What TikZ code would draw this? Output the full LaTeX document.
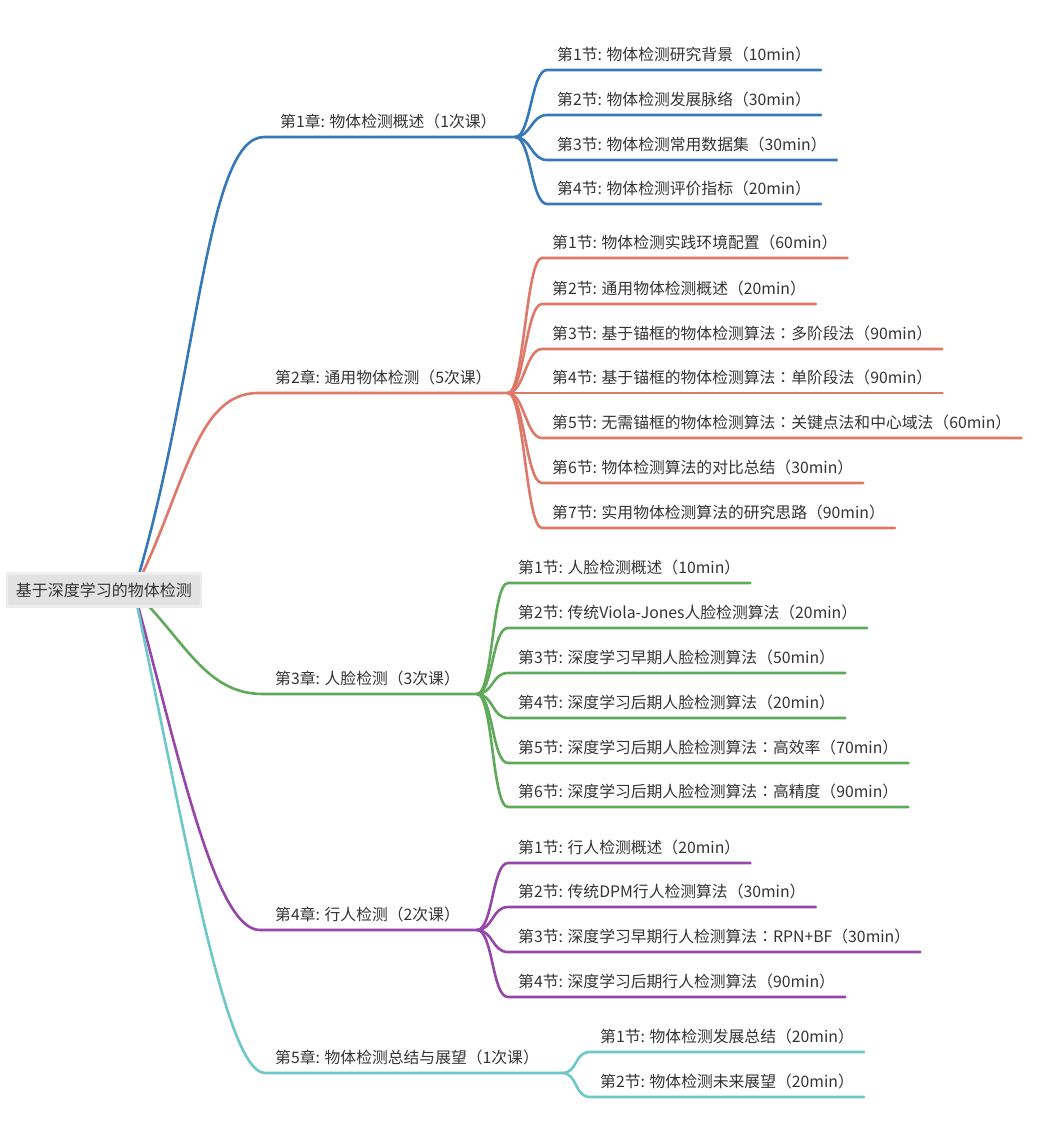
\documentclass[tikz,border=0pt]{standalone}
\usepackage{fontspec}
\setmainfont{Noto Sans CJK SC}
\newfontfamily\tcfont{Noto Sans CJK TC}
\newcommand{\cnc}{{\tcfont ：}}
\usetikzlibrary{backgrounds,calc}
\definecolor{cblue}{HTML}{3778B9}
\definecolor{corange}{HTML}{DE7869}
\definecolor{cgreen}{HTML}{5FAA5A}
\definecolor{cpurple}{HTML}{9646AA}
\definecolor{ccyan}{HTML}{6EC8C8}
\definecolor{rootgray}{HTML}{E2E2E2}
\definecolor{txtgray}{HTML}{333333}
\tikzset{
  lbl/.style={inner sep=0pt, inner ysep=9pt, text height=12pt, text depth=0pt,
    anchor=south west, text=txtgray, font=\fontsize{15.8}{18}\selectfont},
  rootbox/.style={fill=rootgray, rounded corners=2pt, inner sep=0pt,
    minimum width=192pt, minimum height=30pt, text=txtgray,
    font=\fontsize{16}{18}\selectfont},
  br/.style={line width=2.6pt, line cap=round},
}
\begin{document}
\begin{tikzpicture}[x=1pt,y=-1pt]
\useasboundingbox (0,0) rectangle (1048,1127);

% root
\fill[rootgray!60] (6,572) rectangle (202,608);
\node[rootbox] (root) at (104,590) {基于深度学习的物体检测};
\coordinate (hub) at (134,591);

% chapters
\node[lbl] (c1) at (280,137) {第1章: 物体检测概述（1次课）};
\node[lbl] (c2) at (275,393) {第2章: 通用物体检测（5次课）};
\node[lbl] (c3) at (275,694) {第3章: 人脸检测（3次课）};
\node[lbl] (c4) at (275,930) {第4章: 行人检测（2次课）};
\node[lbl] (c5) at (275,1073) {第5章: 物体检测总结与展望（1次课）};

\coordinate (e1) at (264,137); \coordinate (b1) at (515,137);
\coordinate (e2) at (258,393); \coordinate (b2) at (508,393);
\coordinate (e3) at (263,694); \coordinate (b3) at (477,694);
\coordinate (e4) at (260,930); \coordinate (b4) at (477,930);
\coordinate (e5) at (265,1073); \coordinate (b5) at (562,1073);

% sections chapter 1
\node[lbl] (s11) at (557,70)  {第1节: 物体检测研究背景（10min）};
\node[lbl] (s12) at (557,115) {第2节: 物体检测发展脉络（30min）};
\node[lbl] (s13) at (557,160) {第3节: 物体检测常用数据集（30min）};
\node[lbl] (s14) at (557,204) {第4节: 物体检测评价指标（20min）};
% chapter 2
\node[lbl] (s21) at (552,258) {第1节: 物体检测实践环境配置（60min）};
\node[lbl] (s22) at (552,304) {第2节: 通用物体检测概述（20min）};
\node[lbl] (s23) at (552,349) {第3节: 基于锚框的物体检测算法\cnc 多阶段法（90min）};
\node[lbl] (s24) at (552,393) {第4节: 基于锚框的物体检测算法\cnc 单阶段法（90min）};
\node[lbl] (s25) at (552,438) {第5节: 无需锚框的物体检测算法\cnc 关键点法和中心域法（60min）};
\node[lbl] (s26) at (552,483) {第6节: 物体检测算法的对比总结（30min）};
\node[lbl] (s27) at (552,528) {第7节: 实用物体检测算法的研究思路（90min）};
% chapter 3
\node[lbl] (s31) at (518,583) {第1节: 人脸检测概述（10min）};
\node[lbl] (s32) at (518,628) {第2节: 传统Viola-Jones人脸检测算法（20min）};
\node[lbl] (s33) at (518,673) {第3节: 深度学习早期人脸检测算法（50min）};
\node[lbl] (s34) at (518,718) {第4节: 深度学习后期人脸检测算法（20min）};
\node[lbl] (s35) at (518,763) {第5节: 深度学习后期人脸检测算法\cnc 高效率（70min）};
\node[lbl] (s36) at (518,807) {第6节: 深度学习后期人脸检测算法\cnc 高精度（90min）};
% chapter 4
\node[lbl] (s41) at (518,863) {第1节: 行人检测概述（20min）};
\node[lbl] (s42) at (518,907) {第2节: 传统DPM行人检测算法（30min）};
\node[lbl] (s43) at (518,952) {第3节: 深度学习早期行人检测算法\cnc RPN+BF（30min）};
\node[lbl] (s44) at (518,997) {第4节: 深度学习后期行人检测算法（90min）};
% chapter 5
\node[lbl] (s51) at (600,1052) {第1节: 物体检测发展总结（20min）};
\node[lbl] (s52) at (600,1097) {第2节: 物体检测未来展望（20min）};

\begin{scope}[on background layer]
% root to chapters
\draw[br,cblue]   (hub) .. controls (198,382) and (205,137) .. (e1) -- (b1);
\draw[br,corange] (hub) .. controls (185,490) and (195,393) .. (e2) -- (b2);
\draw[br,cgreen]  (hub) .. controls (185,640) and (205,694) .. (e3) -- (b3);
\draw[br,cpurple] (hub) .. controls (180,760) and (215,930) .. (e4) -- (b4);
\draw[br,ccyan]   (hub) .. controls (185,830) and (225,1073) .. (e5) -- (b5);
% chapter to sections
\foreach \s in {s11,s12,s13,s14}
  \draw[br,cblue] (b1) .. controls +(16,0) and +(-16,0) .. ([xshift=-10pt]\s.south west) -- ([xshift=10pt]\s.south east);
\foreach \s in {s21,s22,s23,s24,s25,s26,s27}
  \draw[br,corange] (b2) .. controls +(16,0) and +(-16,0) .. ([xshift=-10pt]\s.south west) -- ([xshift=10pt]\s.south east);
\foreach \s in {s31,s32,s33,s34,s35,s36}
  \draw[br,cgreen] (b3) .. controls +(16,0) and +(-16,0) .. ([xshift=-10pt]\s.south west) -- ([xshift=10pt]\s.south east);
\foreach \s in {s41,s42,s43,s44}
  \draw[br,cpurple] (b4) .. controls +(16,0) and +(-16,0) .. ([xshift=-10pt]\s.south west) -- ([xshift=10pt]\s.south east);
\foreach \s in {s51,s52}
  \draw[br,ccyan] (b5) .. controls +(16,0) and +(-16,0) .. ([xshift=-10pt]\s.south west) -- ([xshift=10pt]\s.south east);
\end{scope}
\end{tikzpicture}
\end{document}
